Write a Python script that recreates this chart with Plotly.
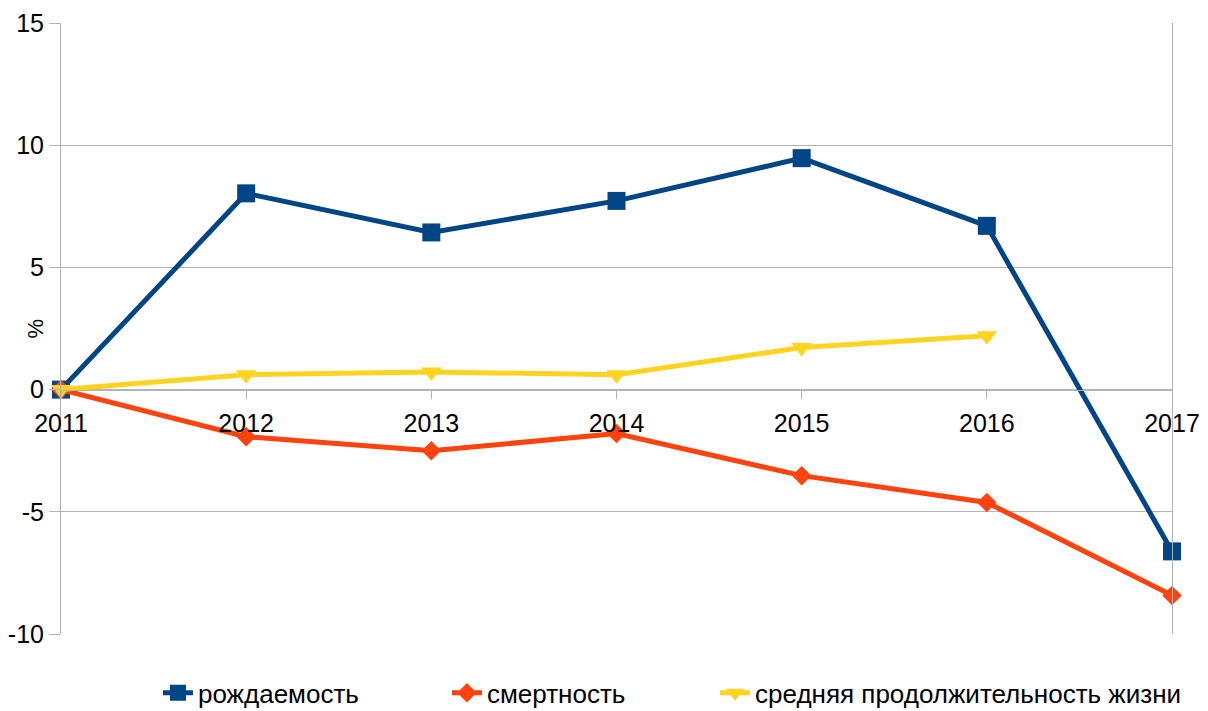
import plotly.graph_objects as go

years = [2011, 2012, 2013, 2014, 2015, 2016, 2017]
birth = [0, 8.03, 6.43, 7.72, 9.47, 6.7, -6.62]
death = [0, -1.93, -2.5, -1.8, -3.52, -4.62, -8.42]
life = [0, 0.61, 0.72, 0.61, 1.72, 2.2, None]

y_ticks = [-10, -5, 0, 5, 10, 15]
y_labels = ["-10", "-5", "0", "5", "10", "15"]

names = ["рождаемость", "смертность", "средняя продолжительность жизни"]
colors = ["#004586", "#ff420e", "#ffd320"]
symbols = ["square", "diamond", "triangle-down"]
sizes = [18, 15, 18]
legends = ["legend", "legend2", "legend3"]
legend_x = [0.0873, 0.3474, 0.5887]

fig = go.Figure()
for name, vals, c, s, sz, lg in zip(names, [birth, death, life], colors, symbols, sizes, legends):
    fig.add_trace(go.Scatter(
        x=years, y=vals, name=name, mode="lines+markers",
        line=dict(color=c, width=5),
        marker=dict(symbol=s, size=sz, color=c),
        connectgaps=False, cliponaxis=False, legend=lg,
    ))

font = "Liberation Sans, Arial, sans-serif"
leg_common = dict(orientation="h", xanchor="left", y=-0.058, yanchor="top",
                  font=dict(size=26), bgcolor="rgba(0,0,0,0)")
fig.update_layout(
    width=1200, height=703,
    margin=dict(l=53, r=36, t=15, b=77, autoexpand=False),
    paper_bgcolor="white", plot_bgcolor="white",
    font=dict(family=font, size=25, color="black"),
    showlegend=True,
    legend=dict(x=legend_x[0], **leg_common),
    legend2=dict(x=legend_x[1], **leg_common),
    legend3=dict(x=legend_x[2], **leg_common),
    xaxis=dict(
        range=[2011, 2017], tickmode="array", tickvals=years,
        ticktext=[str(y) for y in years],
        showgrid=False, zeroline=False,
        showline=True, linecolor="#b3b3b3", linewidth=1,
        ticks="outside", ticklen=8, tickcolor="#b3b3b3",
        anchor="free", position=0.4, automargin=False,
        ticklabelstandoff=3,
        tickfont=dict(size=25),
    ),
    yaxis=dict(
        range=[-10, 15], tickmode="array", tickvals=y_ticks, ticktext=y_labels,
        showgrid=True, gridcolor="#b3b3b3", gridwidth=1,
        zeroline=False, showline=True, linecolor="#b3b3b3", linewidth=1,
        mirror=True, automargin=False,
        ticks="outside", ticklen=11, tickcolor="#b3b3b3",
        tickfont=dict(size=25),
    ),
    annotations=[dict(text="%", xref="paper", yref="paper", x=-26 / 1111, y=0.5,
                      xanchor="center", yanchor="middle", textangle=-90,
                      showarrow=False, font=dict(size=22))],
)

fig.write_html("out.html")
